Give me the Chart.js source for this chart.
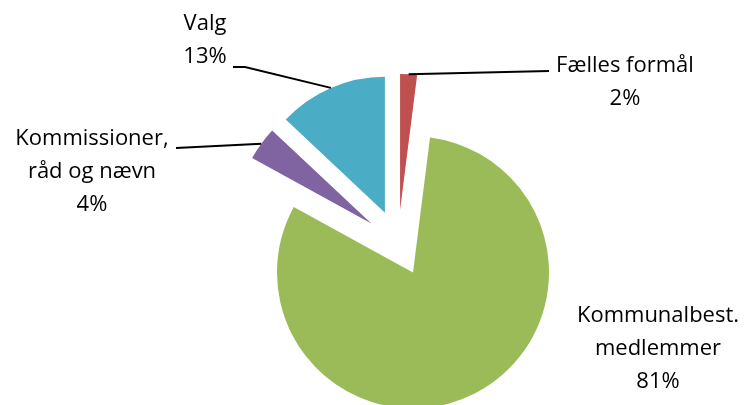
<!DOCTYPE html>
<html>
<head>
<meta charset="utf-8">
<script src="https://cdn.jsdelivr.net/npm/chart.js@4/dist/chart.umd.min.js"></script>
<style>
html, body { margin: 0; padding: 0; background: #fff; }
#wrap { width: 746px; height: 405px; position: relative; }
</style>
</head>
<body>
<div id="wrap"><canvas id="pie"></canvas></div>
<script>
// data, clockwise from 12 o'clock
const categories = ['Fælles formål', 'Kommunalbest. medlemmer', 'Kommissioner, råd og nævn', 'Valg'];
const shares = [2, 81, 4, 13];
const colours = ['#C0504D', '#9BBB59', '#8064A2', '#4BACC6'];
const labelLines = [['Fælles formål'], ['Kommunalbest.', 'medlemmer'], ['Kommissioner,', 'råd og nævn'], ['Valg']];

const pieRadius = 136;
const explode = 132; // chart.js moves the slice by offset / 4

// where the labels sit (centre x, first baseline) and the label end of the leader lines
const labelPos = [{x: 625, y: 72}, {x: 658, y: 322}, {x: 92, y: 145}, {x: 205, y: 30}];
const leaders = [[[549, 71]], null, [[176, 148]], [[233, 67], [245, 67]]];

// offset also makes the slice bigger and trims its angle a bit,
// take both back so the exploded slices keep the size of the pie
const evenSlices = {
    id: 'evenSlices',
    afterDatasetsUpdate(chart) {
        chart.getDatasetMeta(0).data.forEach(function(arc){
            const shift = (arc.options.offset || 0) / 4;
            const grow = shift * (1 - Math.sin(Math.min(Math.PI, arc.circumference)));
            arc.outerRadius = pieRadius - grow;
            const trim = grow / Math.PI / pieRadius / 2;
            arc.startAngle -= trim;
            arc.endAngle += trim;
        });
    }
};

const sliceLabels = {
    id: 'sliceLabels',
    afterDatasetsDraw(chart) {
        const ctx = chart.ctx;
        const arcs = chart.getDatasetMeta(0).data;
        ctx.save();
        ctx.font = '22px "Open Sans"';
        ctx.fillStyle = '#000';
        ctx.textAlign = 'center';
        ctx.textBaseline = 'alphabetic';
        ctx.strokeStyle = '#000';
        ctx.lineWidth = 2;
        arcs.forEach(function(arc, i){
            const lines = labelLines[i].concat(shares[i] + '%');
            lines.forEach(function(t, k){
                ctx.fillText(t, labelPos[i].x, labelPos[i].y + k * 33);
            });
            if (!leaders[i]) return;
            const mid = (arc.startAngle + arc.endAngle) / 2;
            const shift = (arc.options.offset || 0) / 4;
            const ex = arc.x + Math.cos(mid) * (shift + pieRadius);
            const ey = arc.y + Math.sin(mid) * (shift + pieRadius);
            ctx.beginPath();
            ctx.moveTo(leaders[i][0][0], leaders[i][0][1]);
            for (let k = 1; k < leaders[i].length; k++) ctx.lineTo(leaders[i][k][0], leaders[i][k][1]);
            ctx.lineTo(ex, ey);
            ctx.stroke();
        });
        ctx.restore();
    }
};

new Chart(document.getElementById('pie'), {
    type: 'pie',
    data: {
        labels: categories,
        datasets: [{
            data: shares,
            backgroundColor: colours,
            borderWidth: 0,
            offset: explode,
            radius: pieRadius,
            clip: false
        }]
    },
    options: {
        responsive: true,
        maintainAspectRatio: false,
        animation: false,
        events: [],
        layout: { padding: { left: 50, top: 81, right: 0, bottom: 0 } },
        plugins: {
            legend: { display: false },
            tooltip: { enabled: false }
        }
    },
    plugins: [evenSlices, sliceLabels]
});
</script>
</body>
</html>
